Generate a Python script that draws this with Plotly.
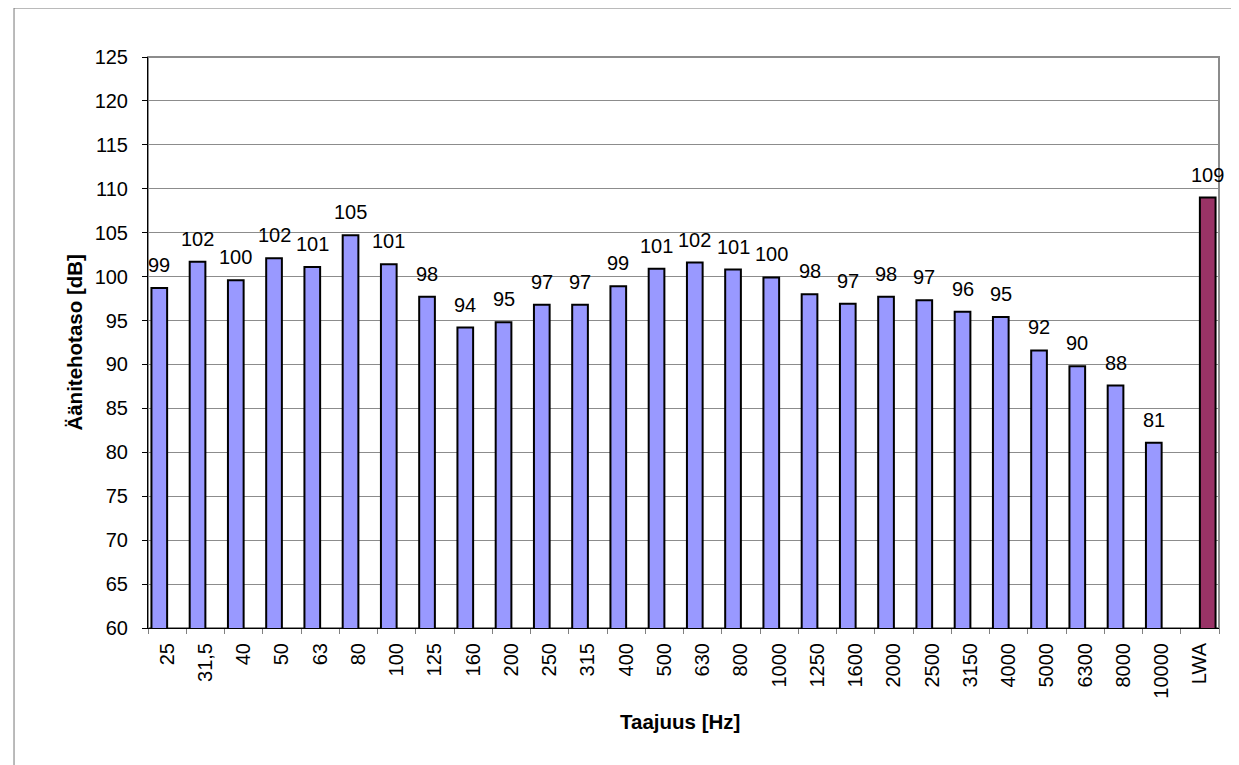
import plotly.graph_objects as go

categories = ["25", "31,5", "40", "50", "63", "80", "100", "125", "160", "200", "250", "315",
              "400", "500", "630", "800", "1000", "1250", "1600", "2000", "2500", "3150",
              "4000", "5000", "6300", "8000", "10000", "LWA"]
# series 1: third-octave band levels (no value at LWA)
band_values = [98.7, 101.7, 99.6, 102.1, 101.1, 104.7, 101.4, 97.7, 94.2, 94.8, 96.8, 96.8,
               98.9, 100.9, 101.6, 100.8, 99.9, 98.0, 96.9, 97.7, 97.3, 96.0, 95.4, 91.6,
               89.8, 87.6, 81.1, None]
# series 2: total A-weighted sound power level (only at LWA)
lwa_values = [None] * 27 + [109.0]

y_ticks = list(range(60, 126, 5))

FONT = "Arial, Liberation Sans, sans-serif"
BARGAP = 0.18
half = (1 - BARGAP) / 4  # offset of each grouped bar centre from the category centre

fig = go.Figure()
fig.add_trace(go.Bar(
    x=categories, y=band_values, name="bands",
    marker=dict(color="#9999FF", line=dict(color="black", width=2)),
    hoverinfo="skip", showlegend=False,
))
fig.add_trace(go.Bar(
    x=categories, y=lwa_values, name="LWA",
    marker=dict(color="#993366", line=dict(color="black", width=2)),
    hoverinfo="skip", showlegend=False,
))

# data labels centred over each bar (category index +/- group offset)
for i, v in enumerate(band_values):
    if v is not None:
        fig.add_annotation(x=i - half, y=v, text=str(int(round(v))), showarrow=False,
                           yanchor="bottom", yshift=10,
                           font=dict(family=FONT, size=20, color="black"))
for i, v in enumerate(lwa_values):
    if v is not None:
        fig.add_annotation(x=i + half, y=v, text=str(int(round(v))), showarrow=False,
                           yanchor="bottom", yshift=10,
                           font=dict(family=FONT, size=20, color="black"))

# plot area border (gray) and outer chart frame
fig.add_shape(type="rect", xref="paper", yref="paper", x0=0, x1=1, y0=0, y1=1,
              line=dict(color="#8c8c8c", width=2), layer="below")
fig.add_shape(type="rect", xref="paper", yref="paper", x0=-0.1251, x1=1.03,
              y0=-0.27, y1=1.0858, line=dict(color="#777777", width=1), layer="below")

fig.add_annotation(xref="paper", yref="paper", x=-0.069, y=0.5, text="<b>Äänitehotaso [dB]</b>",
                   textangle=-90, showarrow=False, xanchor="center", yanchor="middle",
                   font=dict(family=FONT, size=20.5, color="black"))
fig.add_annotation(xref="paper", yref="paper", x=0.4967, y=-0.164, text="<b>Taajuus [Hz]</b>",
                   showarrow=False, xanchor="center", yanchor="middle",
                   font=dict(family=FONT, size=20.5, color="black"))

fig.update_layout(
    width=1239, height=765,
    margin=dict(l=140, r=28, t=49, b=145),
    paper_bgcolor="white", plot_bgcolor="white",
    font=dict(family=FONT, size=20, color="black"),
    barmode="group", bargap=BARGAP, bargroupgap=0,
)
fig.update_xaxes(
    type="category", tickangle=-90, tickson="boundaries",
    ticks="outside", ticklen=5, tickcolor="#808080",
    showline=True, linecolor="black", linewidth=1,
    showgrid=False, ticklabelstandoff=6,
    tickfont=dict(family=FONT, size=20, color="black"),
    range=[-0.5, len(categories) - 0.5],
)
fig.update_yaxes(
    range=[60, 125], tickvals=y_ticks, ticktext=[str(t) for t in y_ticks],
    ticks="outside", ticklen=5, tickcolor="black",
    showline=True, linecolor="black", linewidth=1,
    showgrid=True, gridcolor="#8c8c8c", gridwidth=1,
    zeroline=False, ticklabelstandoff=10,
    tickfont=dict(family=FONT, size=20, color="black"),
)

fig.write_html("out.html")
